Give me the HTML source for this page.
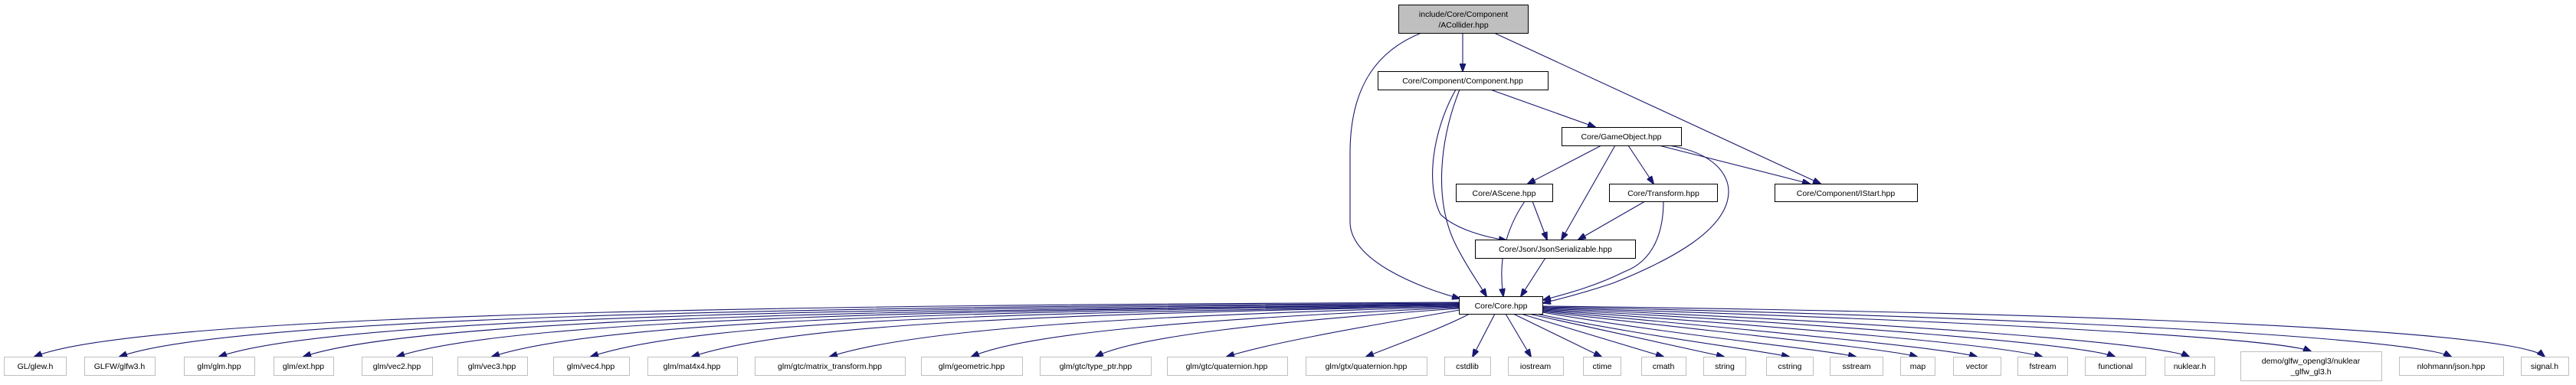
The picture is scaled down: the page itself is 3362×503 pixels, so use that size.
<!DOCTYPE html>
<html><head><meta charset="utf-8"><style>
html,body{margin:0;padding:0;background:#fff;}
svg{display:block;}
text{font-family:"Liberation Sans",Arial,sans-serif;font-size:10.5px;fill:#000;text-anchor:middle;}
.e{fill:none;stroke:#191970;stroke-width:1.1;}
.n{fill:#fff;stroke:#000;stroke-width:1;}
.g{fill:#fff;stroke:#bfbfbf;stroke-width:1;}
</style></head><body>
<svg width="3362" height="503" viewBox="0 0 3362 503" xmlns="http://www.w3.org/2000/svg">
<defs><marker id="a" markerWidth="11" markerHeight="8" refX="10" refY="4" orient="auto" markerUnits="userSpaceOnUse"><path d="M0,0 L11,4 L0,8 z" fill="#191970" stroke="#191970"/></marker></defs>

<!-- upper edges -->
<path class="e" marker-end="url(#a)" d="M1909,43 L1909,93"/>
<path class="e" marker-end="url(#a)" d="M1855,43 C1800,65 1762,110 1762,200 L1762,290 C1762,340 1850,375 1905,390"/>
<path class="e" marker-end="url(#a)" d="M1950,43 L2376,240"/>
<path class="e" marker-end="url(#a)" d="M1945,117 L2082,166"/>
<path class="e" marker-end="url(#a)" d="M1900,117 C1870,170 1860,240 1880,280 C1900,300 1940,310 1966,314"/>
<path class="e" marker-end="url(#a)" d="M1905,117 C1880,180 1870,260 1900,320 C1915,350 1930,370 1940,387"/>
<path class="e" marker-end="url(#a)" d="M2090,190 L1994,240"/>
<path class="e" marker-end="url(#a)" d="M2108,190 L2038,313"/>
<path class="e" marker-end="url(#a)" d="M2125,190 L2158,240"/>
<path class="e" marker-end="url(#a)" d="M2165,190 L2362,240"/>
<path class="e" marker-end="url(#a)" d="M2178,190 C2240,200 2256,230 2256,250 C2256,300 2180,340 2105,370 C2060,385 2030,392 2014,396"/>
<path class="e" marker-end="url(#a)" d="M2000,263 L2019,313"/>
<path class="e" marker-end="url(#a)" d="M1990,263 C1965,300 1955,340 1962,387"/>
<path class="e" marker-end="url(#a)" d="M2147,263 L2060,313"/>
<path class="e" marker-end="url(#a)" d="M2171,263 C2171,300 2160,340 2120,355 C2080,375 2040,385 2014,392"/>
<path class="e" marker-end="url(#a)" d="M2017,337 L1985,387"/>

<!-- bottom edges -->
<g id="be"></g>
<path class="e" marker-end="url(#a)" d="M1904,395 C1300,398 200,402 45,466"/>
<path class="e" marker-end="url(#a)" d="M1904,396 C1300,400 320,406 156,466"/>
<path class="e" marker-end="url(#a)" d="M1904,397 C1300,402 450,408 286,466"/>
<path class="e" marker-end="url(#a)" d="M1904,398 C1320,404 560,410 396,466"/>
<path class="e" marker-end="url(#a)" d="M1904,398 C1340,405 680,412 518,466"/>
<path class="e" marker-end="url(#a)" d="M1904,399 C1360,406 800,414 642,466"/>
<path class="e" marker-end="url(#a)" d="M1904,400 C1380,408 920,416 771,466"/>
<path class="e" marker-end="url(#a)" d="M1904,400 C1420,410 1040,420 903,466"/>
<path class="e" marker-end="url(#a)" d="M1904,401 C1500,412 1200,428 1083,466"/>
<path class="e" marker-end="url(#a)" d="M1904,402 C1580,416 1340,434 1268,466"/>
<path class="e" marker-end="url(#a)" d="M1904,403 C1660,420 1480,440 1430,466"/>
<path class="e" marker-end="url(#a)" d="M1905,405 C1760,430 1650,450 1601,466"/>
<path class="e" marker-end="url(#a)" d="M1918,410 C1880,430 1810,455 1783,466"/>
<path class="e" marker-end="url(#a)" d="M1951,410 L1922,466"/>
<path class="e" marker-end="url(#a)" d="M1965,410 L1998,466"/>
<path class="e" marker-end="url(#a)" d="M1975,410 L2090,466"/>
<path class="e" marker-end="url(#a)" d="M1985,410 L2171,466"/>
<path class="e" marker-end="url(#a)" d="M1995,410 L2250,466"/>
<path class="e" marker-end="url(#a)" d="M2005,410 C2150,440 2280,455 2335,466"/>
<path class="e" marker-end="url(#a)" d="M2013,408 C2200,440 2370,455 2422,466"/>
<path class="e" marker-end="url(#a)" d="M2013,407 C2250,435 2460,455 2502,466"/>
<path class="e" marker-end="url(#a)" d="M2013,406 C2300,432 2540,455 2580,466"/>
<path class="e" marker-end="url(#a)" d="M2013,405 C2350,428 2620,452 2665,466"/>
<path class="e" marker-end="url(#a)" d="M2013,404 C2400,424 2720,450 2760,466"/>
<path class="e" marker-end="url(#a)" d="M2013,403 C2450,420 2820,448 2857,466"/>
<path class="e" marker-end="url(#a)" d="M2013,402 C2500,416 2970,440 3016,459"/>
<path class="e" marker-end="url(#a)" d="M2013,401 C2600,412 3150,440 3199,466"/>
<path class="e" marker-end="url(#a)" d="M2013,400 C2700,408 3280,430 3321,466"/>

<!-- upper nodes -->
<rect x="1825.5" y="6.5" width="169" height="37" fill="#bfbfbf" stroke="#000"/>
<text x="1910" y="22">include/Core/Component</text>
<text x="1910" y="36">/ACollider.hpp</text>
<rect class="n" x="1798.5" y="93.5" width="222" height="24"/><text x="1909" y="109">Core/Component/Component.hpp</text>
<rect class="n" x="2038.5" y="166.5" width="156" height="24"/><text x="2116" y="182">Core/GameObject.hpp</text>
<rect class="n" x="1900.5" y="240.5" width="126" height="23"/><text x="1963" y="256">Core/AScene.hpp</text>
<rect class="n" x="2100.5" y="240.5" width="141" height="23"/><text x="2171" y="256">Core/Transform.hpp</text>
<rect class="n" x="2316.5" y="240.5" width="186" height="23"/><text x="2409" y="256">Core/Component/IStart.hpp</text>
<rect class="n" x="1925.5" y="313.5" width="209" height="24"/><text x="2030" y="329">Core/Json/JsonSerializable.hpp</text>
<rect class="n" x="1904.5" y="387.5" width="109" height="23"/><text x="1959" y="403">Core/Core.hpp</text>

<!-- bottom nodes -->
<g>
<rect class="g" x="5.5" y="466.5" width="81" height="24"/><text x="46" y="482">GL/glew.h</text>
<rect class="g" x="110.5" y="466.5" width="92" height="24"/><text x="156" y="482">GLFW/glfw3.h</text>
<rect class="g" x="240.5" y="466.5" width="92" height="24"/><text x="286" y="482">glm/glm.hpp</text>
<rect class="g" x="357.5" y="466.5" width="78" height="24"/><text x="396" y="482">glm/ext.hpp</text>
<rect class="g" x="472.5" y="466.5" width="92" height="24"/><text x="518" y="482">glm/vec2.hpp</text>
<rect class="g" x="597.5" y="466.5" width="91" height="24"/><text x="642" y="482">glm/vec3.hpp</text>
<rect class="g" x="722.5" y="466.5" width="99" height="24"/><text x="771" y="482">glm/vec4.hpp</text>
<rect class="g" x="845.5" y="466.5" width="117" height="24"/><text x="903" y="482">glm/mat4x4.hpp</text>
<rect class="g" x="985.5" y="466.5" width="196" height="24"/><text x="1083" y="482">glm/gtc/matrix_transform.hpp</text>
<rect class="g" x="1202.5" y="466.5" width="132" height="24"/><text x="1268" y="482">glm/geometric.hpp</text>
<rect class="g" x="1357.5" y="466.5" width="145" height="24"/><text x="1430" y="482">glm/gtc/type_ptr.hpp</text>
<rect class="g" x="1523.5" y="466.5" width="157" height="24"/><text x="1601" y="482">glm/gtc/quaternion.hpp</text>
<rect class="g" x="1704.5" y="466.5" width="158" height="24"/><text x="1783" y="482">glm/gtx/quaternion.hpp</text>
<rect class="g" x="1885.5" y="466.5" width="60" height="24"/><text x="1915" y="482">cstdlib</text>
<rect class="g" x="1968.5" y="466.5" width="72" height="24"/><text x="2004" y="482">iostream</text>
<rect class="g" x="2066.5" y="466.5" width="49" height="24"/><text x="2091" y="482">ctime</text>
<rect class="g" x="2142.5" y="466.5" width="58" height="24"/><text x="2171" y="482">cmath</text>
<rect class="g" x="2223.5" y="466.5" width="55" height="24"/><text x="2251" y="482">string</text>
<rect class="g" x="2305.5" y="466.5" width="61" height="24"/><text x="2336" y="482">cstring</text>
<rect class="g" x="2388.5" y="466.5" width="69" height="24"/><text x="2423" y="482">sstream</text>
<rect class="g" x="2480.5" y="466.5" width="45" height="24"/><text x="2503" y="482">map</text>
<rect class="g" x="2549.5" y="466.5" width="62" height="24"/><text x="2580" y="482">vector</text>
<rect class="g" x="2633.5" y="466.5" width="65" height="24"/><text x="2666" y="482">fstream</text>
<rect class="g" x="2721.5" y="466.5" width="79" height="24"/><text x="2761" y="482">functional</text>
<rect class="g" x="2825.5" y="466.5" width="65" height="24"/><text x="2858" y="482">nuklear.h</text>
<rect class="g" x="2924.5" y="459.5" width="184" height="38"/><text x="3016" y="475">demo/glfw_opengl3/nuklear</text><text x="3016" y="489">_glfw_gl3.h</text>
<rect class="g" x="3131.5" y="466.5" width="136" height="24"/><text x="3199" y="482">nlohmann/json.hpp</text>
<rect class="g" x="3290.5" y="466.5" width="62" height="24"/><text x="3321" y="482">signal.h</text>
</g>
</svg>
</body></html>
